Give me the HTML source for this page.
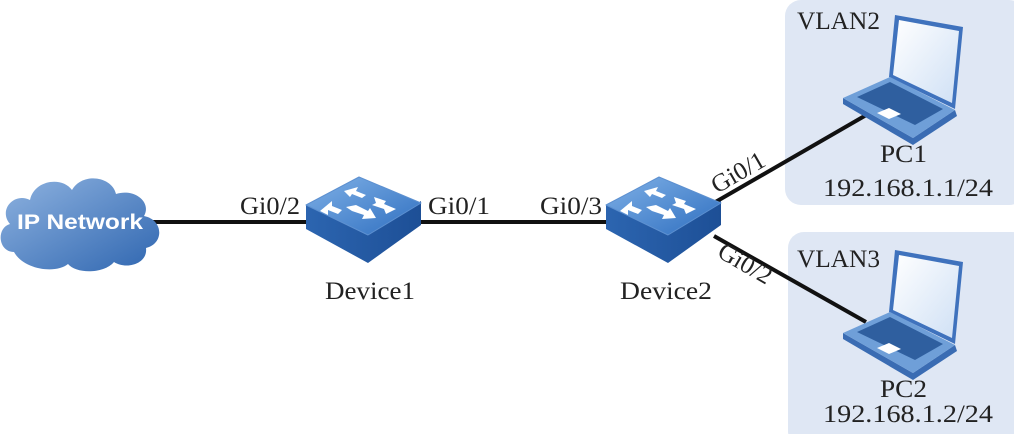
<!DOCTYPE html>
<html><head><meta charset="utf-8"><style>
html,body{margin:0;padding:0;background:#fff;}
svg{display:block}
text{font-family:"Liberation Serif",serif;fill:#222}
</style></head><body>
<svg width="1014" height="434" viewBox="0 0 1014 434" xmlns="http://www.w3.org/2000/svg">
<defs>
<linearGradient id="cl" x1="0" y1="0" x2="1" y2="1"><stop offset="0" stop-color="#8fb3e0"/><stop offset="1" stop-color="#2f66b0"/></linearGradient>
<linearGradient id="st" x1="0" y1="0" x2="1" y2="1"><stop offset="0" stop-color="#7fb0e6"/><stop offset="1" stop-color="#2f6fc0"/></linearGradient>
<linearGradient id="ss" x1="0" y1="0" x2="1" y2="0"><stop offset="0" stop-color="#2c65b0"/><stop offset="1" stop-color="#1d4f96"/></linearGradient>
<linearGradient id="scr" x1="0" y1="0" x2="1" y2="1"><stop offset="0" stop-color="#ffffff"/><stop offset="1" stop-color="#cfe0f5"/></linearGradient>
<g id="sw">
<polygon points="0,28 0,52 62,86 115,48 115,24 62,58" fill="url(#ss)"/>
<polygon points="0,28 53,0 115,26 62,58" fill="url(#st)" stroke="#5d90d0" stroke-width="1" stroke-linejoin="round"/>
<g fill="#fff">
<polygon points="14,34 26,24 26,29 36,33 32,37 22,33 22,38"/>
<polygon points="38,14 52,10 50,14 60,18 56,21 46,17 44,20"/>
<polygon points="68,20 80,24 78,27 90,32 80,37 78,32 66,28 70,26"/>
<polygon points="40,30 50,28 62,34 64,31 70,41 56,42 58,38 46,34"/>
</g>
</g>
<g id="lap">
<polygon points="52,0 120,12 112,94 46,62" fill="#3f72bd"/>
<polygon points="56,5 116,16 109,88 50,60" fill="url(#scr)"/>
<polygon points="0,83 0,89 70,130 114,101 112,95 70,123" fill="#3a6cb3"/>
<polygon points="0,83 47,62 112,95 70,123" fill="#6f9fd8"/>
<polygon points="14,82 47,67 100,94 72,110" fill="#2f5f9f"/>
<polygon points="34,98 46,93 58,99 46,104" fill="#fff"/>
</g>
</defs>
<rect x="785" y="0" width="240" height="205" rx="16" fill="#dfe7f4"/>
<rect x="788" y="232" width="240" height="215" rx="16" fill="#dfe7f4"/>
<g stroke="#111" stroke-width="4">
<line x1="150" y1="222" x2="310" y2="222"/>
<line x1="418" y1="222" x2="610" y2="222"/>
<line x1="712" y1="204" x2="868" y2="114"/>
<line x1="714" y1="236" x2="866" y2="322"/>
</g>
<path d="M14,252 C-2,252 -4,228 10,224 C-2,210 14,192 30,200 C34,180 62,176 72,190 C82,172 112,176 116,194 C134,188 152,202 144,216 C164,220 164,244 146,248 C148,264 126,270 114,262 C104,274 76,274 68,264 C56,274 24,270 14,252 Z" fill="url(#cl)"/>
<text x="17" y="229" textLength="126" lengthAdjust="spacingAndGlyphs" style="font-family:'Liberation Sans',sans-serif;font-weight:bold;font-size:21px;fill:#fff">IP Network</text>
<use href="#sw" x="306" y="177"/>
<use href="#sw" x="606" y="177"/>
<use href="#lap" x="843" y="15"/>
<use href="#lap" x="843" y="250"/>
<g font-size="25">
<text x="240" y="214" textLength="60" lengthAdjust="spacingAndGlyphs">Gi0/2</text>
<text x="428" y="214" textLength="62" lengthAdjust="spacingAndGlyphs">Gi0/1</text>
<text x="540" y="214" textLength="62" lengthAdjust="spacingAndGlyphs">Gi0/3</text>
<text x="325" y="299" textLength="90" lengthAdjust="spacingAndGlyphs">Device1</text>
<text x="620" y="299" textLength="92" lengthAdjust="spacingAndGlyphs">Device2</text>
<text x="717" y="194" transform="rotate(-30 717 194)" textLength="58" lengthAdjust="spacingAndGlyphs">Gi0/1</text>
<text x="716" y="256" transform="rotate(30 716 256)" textLength="58" lengthAdjust="spacingAndGlyphs">Gi0/2</text>
<text x="797" y="29" textLength="83" lengthAdjust="spacingAndGlyphs">VLAN2</text>
<text x="880" y="162" textLength="47" lengthAdjust="spacingAndGlyphs">PC1</text>
<text x="823" y="196" textLength="170" lengthAdjust="spacingAndGlyphs">192.168.1.1/24</text>
<text x="797" y="267" textLength="83" lengthAdjust="spacingAndGlyphs">VLAN3</text>
<text x="880" y="397" textLength="47" lengthAdjust="spacingAndGlyphs">PC2</text>
<text x="823" y="422" textLength="170" lengthAdjust="spacingAndGlyphs">192.168.1.2/24</text>
</g>
</svg>
</body></html>
